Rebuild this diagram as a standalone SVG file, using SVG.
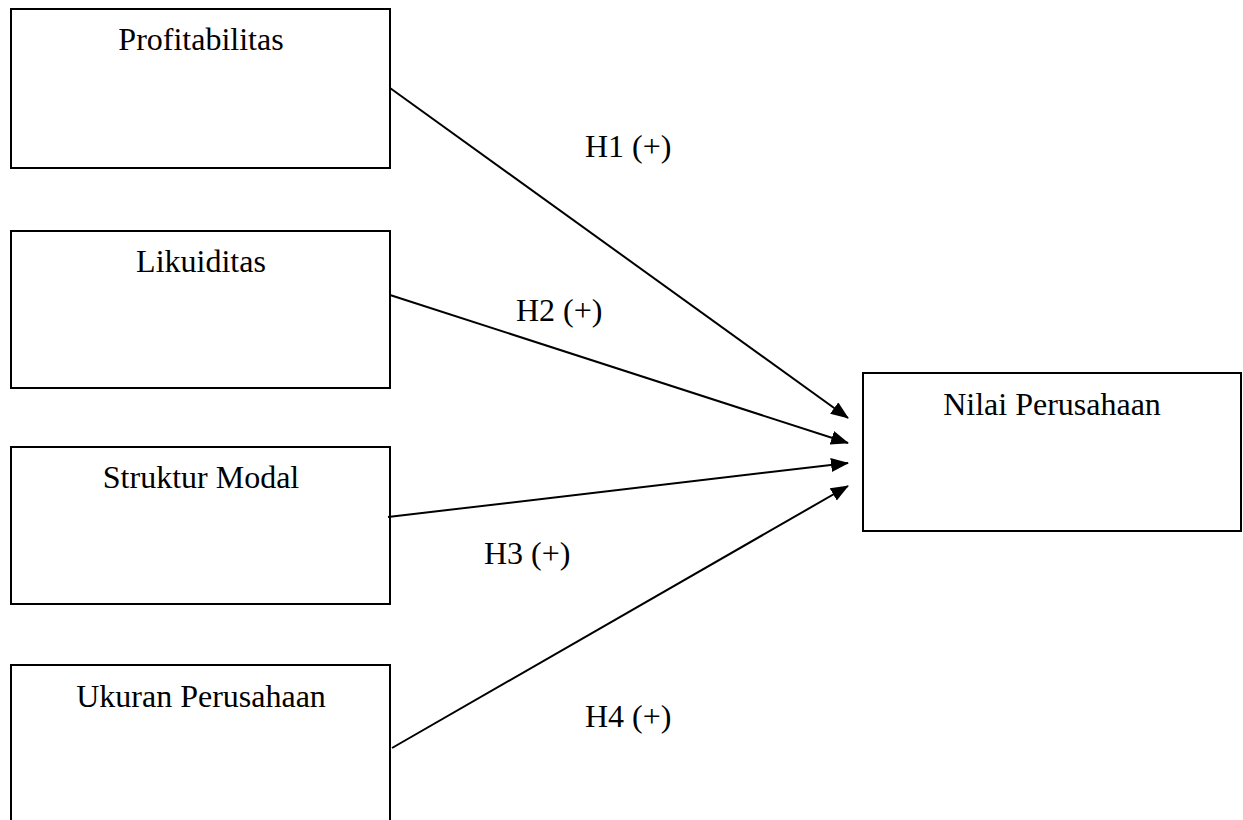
<svg xmlns="http://www.w3.org/2000/svg" width="1243" height="820" viewBox="0 0 1243 820">
<style>
.box{fill:#fff;stroke:#000;stroke-width:2}
.t{font-family:"Liberation Serif","Times New Roman",serif;font-size:32px;fill:#000}
.c{text-anchor:middle}
.ln{stroke:#000;stroke-width:2;fill:none;marker-end:url(#ah)}
</style>
<defs>
<marker id="ah" viewBox="0 0 18 14" refX="17" refY="7" markerWidth="18" markerHeight="14" markerUnits="userSpaceOnUse" orient="auto">
<path d="M0,0 L18,7 L0,14 z" fill="#000"/>
</marker>
</defs>
<rect width="1243" height="820" fill="#fff"/>
<g id="profitabilitas"><rect class="box" x="11" y="9" width="379" height="159"/><text class="t c" x="201" y="50">Profitabilitas</text></g>
<g id="likuiditas"><rect class="box" x="11" y="231" width="379" height="157"/><text class="t c" x="201" y="272">Likuiditas</text></g>
<g id="struktur"><rect class="box" x="11" y="447" width="379" height="157"/><text class="t c" x="201" y="488">Struktur Modal</text></g>
<g id="ukuran"><rect class="box" x="11" y="665" width="379" height="170"/><text class="t c" x="201" y="707">Ukuran Perusahaan</text></g>
<g id="nilai"><rect class="box" x="863" y="373" width="378" height="158"/><text class="t c" x="1052" y="415">Nilai Perusahaan</text></g>
<g id="connectors">
<line class="ln" x1="390" y1="88" x2="848" y2="418"/>
<line class="ln" x1="390" y1="295" x2="848" y2="443"/>
<line class="ln" x1="388" y1="517" x2="848" y2="463"/>
<line class="ln" x1="392" y1="748" x2="848" y2="486"/>
<text class="t" x="585" y="157">H1 (+)</text>
<text class="t" x="516" y="321">H2 (+)</text>
<text class="t" x="484" y="564">H3 (+)</text>
<text class="t" x="585" y="727">H4 (+)</text>
</g>
</svg>
